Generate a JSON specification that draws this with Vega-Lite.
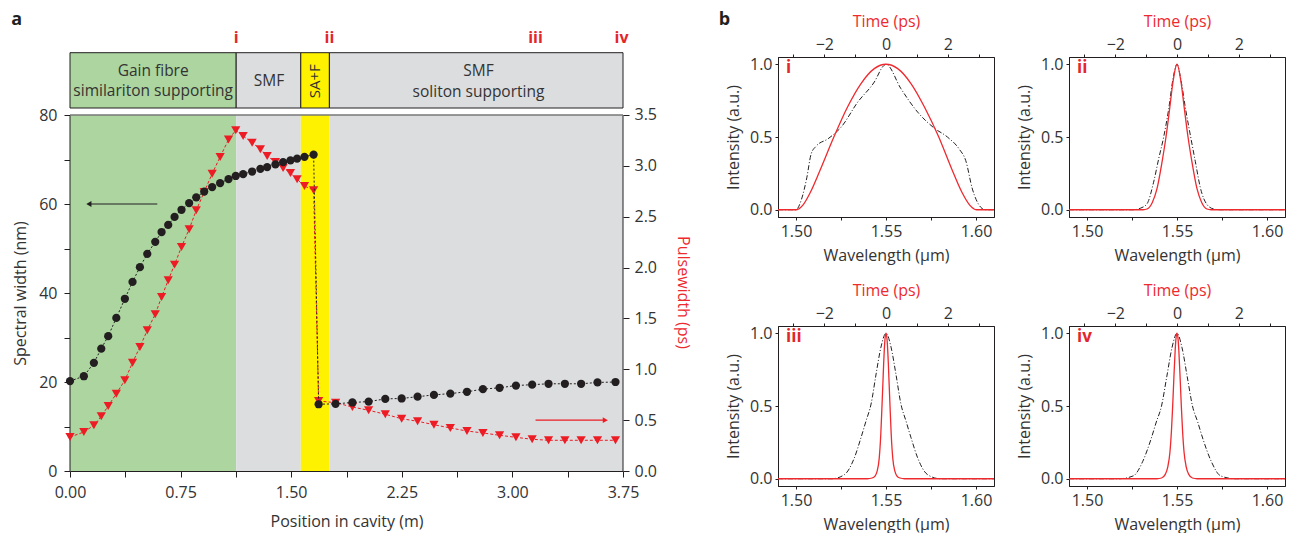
{
"$schema": "https://vega.github.io/schema/vega-lite/v6.json",
"padding": {"left": 11, "top": 10, "right": 5, "bottom": 5},
"background": "white",
"config": {
  "font": "Open Sans",
  "view": {"stroke": "#231f20", "strokeWidth": 1},
  "axis": {"grid": false, "labelFont": "Open Sans", "titleFont": "Open Sans", "labelFontSize": 16, "titleFontSize": 16, "labelColor": "#333333", "titleColor": "#333333", "titleFontWeight": "normal", "domainColor": "#231f20", "tickColor": "#231f20", "labelOverlap": false, "labelFlush": false},
  "text": {"font": "Open Sans"}
},
"datasets": {
  "main": [
    {"pos":0.0,"sw":20.2,"pw":0.334},{"pos":0.094,"sw":21.3,"pw":0.383},{"pos":0.162,"sw":24.3,"pw":0.449},{"pos":0.212,"sw":27.5,"pw":0.538},
    {"pos":0.259,"sw":30.3,"pw":0.639},{"pos":0.314,"sw":34.4,"pw":0.760},{"pos":0.372,"sw":38.7,"pw":0.892},{"pos":0.424,"sw":42.5,"pw":1.065},
    {"pos":0.474,"sw":45.8,"pw":1.219},{"pos":0.524,"sw":48.8,"pw":1.383},{"pos":0.578,"sw":51.5,"pw":1.541},{"pos":0.621,"sw":53.7,"pw":1.711},
    {"pos":0.666,"sw":55.3,"pw":1.875},{"pos":0.709,"sw":57.1,"pw":2.029},{"pos":0.756,"sw":58.7,"pw":2.203},{"pos":0.808,"sw":60.2,"pw":2.377},
    {"pos":0.856,"sw":61.5,"pw":2.563},{"pos":0.910,"sw":62.8,"pw":2.743},{"pos":0.964,"sw":63.8,"pw":2.923},{"pos":1.018,"sw":64.7,"pw":3.088},
    {"pos":1.075,"sw":65.6,"pw":3.258},{"pos":1.124,"sw":66.3,"pw":3.350},{"pos":1.174,"sw":66.7,"pw":3.294},{"pos":1.235,"sw":67.3,"pw":3.228},
    {"pos":1.291,"sw":67.9,"pw":3.163},{"pos":1.337,"sw":68.3,"pw":3.097},{"pos":1.393,"sw":68.9,"pw":3.038},{"pos":1.445,"sw":69.4,"pw":2.979},
    {"pos":1.495,"sw":69.8,"pw":2.930},{"pos":1.540,"sw":70.2,"pw":2.868},{"pos":1.590,"sw":70.6,"pw":2.802},{"pos":1.652,"sw":71.1,"pw":2.760},
    {"pos":1.686,"sw":15.0,"pw":0.688},{"pos":1.801,"sw":15.1,"pw":0.672},{"pos":1.915,"sw":15.4,"pw":0.629},{"pos":2.025,"sw":15.6,"pw":0.597},
    {"pos":2.138,"sw":16.2,"pw":0.558},{"pos":2.249,"sw":16.3,"pw":0.514},{"pos":2.357,"sw":16.7,"pw":0.489},{"pos":2.468,"sw":17.1,"pw":0.455},
    {"pos":2.579,"sw":17.4,"pw":0.423},{"pos":2.692,"sw":17.8,"pw":0.393},{"pos":2.800,"sw":18.4,"pw":0.374},{"pos":2.913,"sw":18.7,"pw":0.351},
    {"pos":3.024,"sw":19.2,"pw":0.331},{"pos":3.134,"sw":19.4,"pw":0.312},{"pos":3.245,"sw":19.6,"pw":0.302},{"pos":3.356,"sw":19.6,"pw":0.302},
    {"pos":3.466,"sw":19.6,"pw":0.302},{"pos":3.577,"sw":19.9,"pw":0.302},{"pos":3.699,"sw":20.0,"pw":0.302}
  ],
  "regions": [
    {"x1":0,"x2":1.127,"region":"gain"},{"x1":1.127,"x2":1.565,"region":"smf"},{"x1":1.565,"x2":1.759,"region":"sa"},{"x1":1.759,"x2":3.75,"region":"smf"}
  ],
  "spec_i": [
    {"wl":1.49,"I":0},{"wl":1.5,"I":0},{"wl":1.503,"I":0.07},{"wl":1.506,"I":0.22},{"wl":1.5084,"I":0.383},{"wl":1.5112,"I":0.437},
    {"wl":1.5177,"I":0.487},{"wl":1.5251,"I":0.568},{"wl":1.5343,"I":0.74},{"wl":1.5435,"I":0.878},{"wl":1.5487,"I":0.99},{"wl":1.55,"I":1},
    {"wl":1.5583,"I":0.832},{"wl":1.5676,"I":0.671},{"wl":1.5768,"I":0.561},{"wl":1.5842,"I":0.499},{"wl":1.5906,"I":0.418},{"wl":1.5943,"I":0.338},
    {"wl":1.598,"I":0.142},{"wl":1.6027,"I":0.016},{"wl":1.605,"I":0},{"wl":1.61,"I":0}
  ],
  "pulse_i": [
    {"t":-3.5,"I":0},{"t":-2.9,"I":0},{"t":-2.7,"I":0.03},{"t":-2.45,"I":0.12},{"t":-2.12,"I":0.28},{"t":-1.69,"I":0.5},{"t":-1.25,"I":0.705},
    {"t":-0.815,"I":0.866},{"t":-0.38,"I":0.97},{"t":0,"I":1},{"t":0.38,"I":0.97},{"t":0.815,"I":0.866},{"t":1.25,"I":0.705},{"t":1.71,"I":0.5},
    {"t":2.13,"I":0.28},{"t":2.46,"I":0.12},{"t":2.72,"I":0.03},{"t":2.93,"I":0},{"t":3.5,"I":0}
  ],
  "spec_ii": [
    {"wl":1.49,"I":0},{"wl":1.526,"I":0},{"wl":1.5296,"I":0.01},{"wl":1.5333,"I":0.04},{"wl":1.537,"I":0.189},{"wl":1.5398,"I":0.349},
    {"wl":1.5426,"I":0.5},{"wl":1.5454,"I":0.694},{"wl":1.5478,"I":0.901},{"wl":1.55,"I":1},{"wl":1.5522,"I":0.89},{"wl":1.5548,"I":0.69},
    {"wl":1.5576,"I":0.5},{"wl":1.5602,"I":0.33},{"wl":1.563,"I":0.15},{"wl":1.5667,"I":0.035},{"wl":1.5704,"I":0.005},{"wl":1.574,"I":0},{"wl":1.61,"I":0}
  ],
  "pulse_ii": [
    {"t":-3.5,"I":0},{"t":-1.1,"I":0},{"t":-0.97,"I":0.005},{"t":-0.8,"I":0.05},{"t":-0.65,"I":0.143},{"t":-0.487,"I":0.326},{"t":-0.357,"I":0.5},
    {"t":-0.238,"I":0.695},{"t":-0.13,"I":0.878},{"t":0,"I":1},{"t":0.13,"I":0.878},{"t":0.238,"I":0.695},{"t":0.357,"I":0.5},{"t":0.487,"I":0.326},
    {"t":0.65,"I":0.143},{"t":0.8,"I":0.05},{"t":0.97,"I":0.005},{"t":1.1,"I":0},{"t":3.5,"I":0}
  ],
  "spec_iii": [
    {"wl":1.49,"I":0},{"wl":1.52,"I":0},{"wl":1.5269,"I":0.028},{"wl":1.5324,"I":0.143},{"wl":1.5361,"I":0.282},{"wl":1.5389,"I":0.397},
    {"wl":1.5417,"I":0.513},{"wl":1.5445,"I":0.72},{"wl":1.5472,"I":0.905},{"wl":1.55,"I":1},{"wl":1.5528,"I":0.905},{"wl":1.5555,"I":0.72},
    {"wl":1.5583,"I":0.513},{"wl":1.5611,"I":0.397},{"wl":1.5639,"I":0.282},{"wl":1.5676,"I":0.143},{"wl":1.5731,"I":0.028},{"wl":1.58,"I":0},{"wl":1.61,"I":0}
  ],
  "pulse_iii": [
    {"t":-3.5,"I":0},{"t":-0.6,"I":0},{"t":-0.45,"I":0.005},{"t":-0.35,"I":0.02},{"t":-0.29,"I":0.05},{"t":-0.22,"I":0.14},{"t":-0.17,"I":0.3},
    {"t":-0.13,"I":0.5},{"t":-0.1,"I":0.66},{"t":-0.076,"I":0.79},{"t":-0.04,"I":0.94},{"t":0,"I":1},{"t":0.04,"I":0.94},{"t":0.076,"I":0.79},
    {"t":0.1,"I":0.66},{"t":0.13,"I":0.5},{"t":0.17,"I":0.3},{"t":0.22,"I":0.14},{"t":0.29,"I":0.05},{"t":0.35,"I":0.02},{"t":0.45,"I":0.005},
    {"t":0.6,"I":0},{"t":3.5,"I":0}
  ],
  "spec_iv": [
    {"wl":1.49,"I":0},{"wl":1.518,"I":0},{"wl":1.5258,"I":0.02},{"wl":1.531,"I":0.12},{"wl":1.5355,"I":0.27},{"wl":1.5385,"I":0.39},
    {"wl":1.5414,"I":0.5},{"wl":1.5443,"I":0.7},{"wl":1.5472,"I":0.9},{"wl":1.55,"I":1},{"wl":1.5528,"I":0.9},{"wl":1.5557,"I":0.7},
    {"wl":1.5586,"I":0.5},{"wl":1.5615,"I":0.39},{"wl":1.5645,"I":0.27},{"wl":1.569,"I":0.12},{"wl":1.5742,"I":0.02},{"wl":1.582,"I":0},{"wl":1.61,"I":0}
  ],
  "pulse_iv": [
    {"t":-3.5,"I":0},{"t":-0.65,"I":0},{"t":-0.5,"I":0.005},{"t":-0.38,"I":0.03},{"t":-0.3,"I":0.08},{"t":-0.23,"I":0.18},{"t":-0.18,"I":0.33},
    {"t":-0.14,"I":0.5},{"t":-0.1,"I":0.7},{"t":-0.06,"I":0.88},{"t":-0.03,"I":0.97},{"t":0,"I":1},{"t":0.03,"I":0.97},{"t":0.06,"I":0.88},
    {"t":0.1,"I":0.7},{"t":0.14,"I":0.5},{"t":0.18,"I":0.33},{"t":0.23,"I":0.18},{"t":0.3,"I":0.08},{"t":0.38,"I":0.03},{"t":0.5,"I":0.005},
    {"t":0.65,"I":0},{"t":3.5,"I":0}
  ]
},
"hconcat": [
  {
    "width": 553, "height": 414,
    "view": {"stroke": null},
    "layer": [
      {"layer": [
        {"data": {"name": "regions"},
         "mark": {"type": "rect"},
         "encoding": {
           "x": {"field": "x1", "type": "quantitative", "scale": {"domain": [0, 3.75], "nice": false, "zero": false},
                 "title": "Position in cavity (m)",
                 "axis": {"values": [0, 0.375, 0.75, 1.125, 1.5, 1.875, 2.25, 2.625, 3, 3.375, 3.75],
                          "labelExpr": "round(datum.value*1000) % 750 == 0 ? format(datum.value, '.2f') : ''",
                          "tickSize": 6, "labelPadding": 7,
                          "title": "Position in cavity (m)", "titleX": 276.5, "titleY": 50, "titleBaseline": "middle"}},
           "x2": {"field": "x2"},
           "y": {"datum": 0, "type": "quantitative", "scale": {"domain": [0, 93.034], "nice": false, "zero": false}, "axis": null},
           "y2": {"datum": 80},
           "color": {"field": "region", "type": "nominal", "scale": {"domain": ["gain", "smf", "sa"], "range": ["#acd5a0", "#dcdddf", "#fff200"]}, "legend": null}
         }},
        {"data": {"name": "regions"},
         "mark": {"type": "rect", "stroke": "#231f20", "strokeWidth": 1},
         "encoding": {
           "x": {"field": "x1", "type": "quantitative", "title": "Position in cavity (m)"},
           "x2": {"field": "x2"},
           "y": {"datum": 81.573, "type": "quantitative", "scale": {"domain": [0, 93.034], "nice": false, "zero": false}, "axis": null},
           "y2": {"datum": 94.0},
           "color": {"field": "region", "type": "nominal", "scale": {"domain": ["gain", "smf", "sa"], "range": ["#acd5a0", "#dcdddf", "#fff200"]}, "legend": null}
         }},
        {"data": {"values": [{"xa": 0, "ya": 0, "yb": 80}, {"xa": 3.75, "ya": 0, "yb": 80}]},
         "mark": {"type": "rule", "color": "#231f20", "strokeWidth": 1},
         "encoding": {
           "x": {"field": "xa", "type": "quantitative", "title": "Position in cavity (m)"},
           "y": {"field": "ya", "type": "quantitative", "scale": {"domain": [0, 93.034], "nice": false, "zero": false}, "axis": null},
           "y2": {"field": "yb"}
         }},
        {"data": {"values": [{"xa": 0, "xb": 3.75, "ya": 80}]},
         "mark": {"type": "rule", "color": "#777777", "strokeWidth": 1.5},
         "encoding": {
           "x": {"field": "xa", "type": "quantitative", "title": "Position in cavity (m)"},
           "x2": {"field": "xb"},
           "y": {"field": "ya", "type": "quantitative", "scale": {"domain": [0, 93.034], "nice": false, "zero": false}, "axis": null}
         }},
        {"data": {"values": [
            {"x": 0.564, "y": 90.0, "text": "Gain fibre"},
            {"x": 0.564, "y": 85.3, "text": "similariton supporting"},
            {"x": 1.35, "y": 87.6, "text": "SMF"},
            {"x": 2.77, "y": 90.0, "text": "SMF"},
            {"x": 2.77, "y": 85.2, "text": "soliton supporting"}
          ]},
         "mark": {"type": "text", "fontSize": 15.5, "color": "#333333", "baseline": "middle", "align": "center"},
         "encoding": {
           "x": {"field": "x", "type": "quantitative", "title": "Position in cavity (m)"},
           "y": {"field": "y", "type": "quantitative", "scale": {"domain": [0, 93.034], "nice": false, "zero": false}, "axis": null},
           "text": {"field": "text"}
         }},
        {"data": {"values": [{"x": 1.662, "y": 87.6, "text": "SA+F"}]},
         "mark": {"type": "text", "fontSize": 15, "color": "#333333", "baseline": "middle", "align": "center", "angle": 270},
         "encoding": {
           "x": {"field": "x", "type": "quantitative", "title": "Position in cavity (m)"},
           "y": {"field": "y", "type": "quantitative", "scale": {"domain": [0, 93.034], "nice": false, "zero": false}, "axis": null},
           "text": {"field": "text"}
         }},
        {"data": {"values": [
            {"x": 1.127, "y": 97.3, "text": "i"},
            {"x": 1.759, "y": 97.3, "text": "ii"},
            {"x": 3.157, "y": 97.3, "text": "iii"},
            {"x": 3.74, "y": 97.3, "text": "iv"}
          ]},
         "mark": {"type": "text", "fontSize": 16, "fontWeight": "bold", "color": "#e3262b", "baseline": "middle", "align": "center"},
         "encoding": {
           "x": {"field": "x", "type": "quantitative", "title": "Position in cavity (m)"},
           "y": {"field": "y", "type": "quantitative", "scale": {"domain": [0, 93.034], "nice": false, "zero": false}, "axis": null},
           "text": {"field": "text"}
         }},
        {"data": {"values": [{"x": -0.361, "y": 101.35, "text": "a"}]},
         "mark": {"type": "text", "fontSize": 18, "fontWeight": "bold", "color": "#231f20", "baseline": "middle", "align": "center"},
         "encoding": {
           "x": {"field": "x", "type": "quantitative", "title": "Position in cavity (m)"},
           "y": {"field": "y", "type": "quantitative", "scale": {"domain": [0, 93.034], "nice": false, "zero": false}, "axis": null},
           "text": {"field": "text"}
         }}
      ]},
      {"layer": [
        {"data": {"name": "main"},
         "mark": {"type": "line", "color": "#ed1c24", "strokeWidth": 1, "strokeDash": [3, 2]},
         "encoding": {
           "x": {"field": "pos", "type": "quantitative", "title": "Position in cavity (m)"},
           "y": {"field": "pw", "type": "quantitative", "scale": {"domain": [0, 4.0702], "nice": false, "zero": false},
                 "title": "Pulsewidth (ps)",
                 "axis": {"orient": "right", "domain": false, "values": [0, 0.25, 0.5, 0.75, 1, 1.25, 1.5, 1.75, 2, 2.25, 2.5, 2.75, 3, 3.25, 3.5],
                          "labelExpr": "round(datum.value*100) % 50 == 0 ? format(datum.value, '.1f') : ''",
                          "tickSize": 6, "labelPadding": 5,
                          "title": "Pulsewidth (ps)", "titleColor": "#ee2a2f", "titleAngle": 90, "titleX": 59, "titleY": 235, "titleBaseline": "middle"}}
         }},
        {"data": {"name": "main"},
         "mark": {"type": "point", "shape": "triangle-down", "filled": true, "size": 85, "color": "#ed1c24", "opacity": 1},
         "encoding": {
           "x": {"field": "pos", "type": "quantitative", "title": "Position in cavity (m)"},
           "y": {"field": "pw", "type": "quantitative", "title": "Pulsewidth (ps)"}
         }},
        {"data": {"values": [{"xa": 3.157, "xb": 3.63, "pw": 0.5}]},
         "mark": {"type": "rule", "color": "#ed1c24", "strokeWidth": 1.2},
         "encoding": {
           "x": {"field": "xa", "type": "quantitative", "title": "Position in cavity (m)"},
           "x2": {"field": "xb"},
           "y": {"field": "pw", "type": "quantitative", "title": "Pulsewidth (ps)"}
         }},
        {"data": {"values": [{"xa": 3.63, "pw": 0.5}]},
         "mark": {"type": "point", "shape": "triangle-right", "filled": true, "size": 35, "color": "#ed1c24", "opacity": 1},
         "encoding": {
           "x": {"field": "xa", "type": "quantitative", "title": "Position in cavity (m)"},
           "y": {"field": "pw", "type": "quantitative", "title": "Pulsewidth (ps)"}
         }}
      ]},
      {"layer": [
        {"data": {"name": "main"},
         "mark": {"type": "line", "color": "#231f20", "strokeWidth": 1, "strokeDash": [2, 2]},
         "encoding": {
           "x": {"field": "pos", "type": "quantitative", "title": "Position in cavity (m)"},
           "y": {"field": "sw", "type": "quantitative", "scale": {"domain": [0, 93.034], "nice": false, "zero": false},
                 "title": "Spectral width (nm)",
                 "axis": {"orient": "left", "domain": false, "values": [0, 10, 20, 30, 40, 50, 60, 70, 80],
                          "labelExpr": "datum.value % 20 == 0 ? datum.label : ''",
                          "tickSize": 6, "labelPadding": 7,
                          "title": "Spectral width (nm)", "titleAngle": -90, "titleX": -50, "titleY": 236, "titleBaseline": "middle"}}
         }},
        {"data": {"name": "main"},
         "mark": {"type": "point", "shape": "circle", "filled": true, "size": 68, "color": "#231f20", "opacity": 1},
         "encoding": {
           "x": {"field": "pos", "type": "quantitative", "title": "Position in cavity (m)"},
           "y": {"field": "sw", "type": "quantitative", "title": "Spectral width (nm)"}
         }},
        {"data": {"values": [{"xa": 0.592, "xb": 0.13, "sw": 60}]},
         "mark": {"type": "rule", "color": "#231f20", "strokeWidth": 1.2},
         "encoding": {
           "x": {"field": "xa", "type": "quantitative", "title": "Position in cavity (m)"},
           "x2": {"field": "xb"},
           "y": {"field": "sw", "type": "quantitative", "title": "Spectral width (nm)"}
         }},
        {"data": {"values": [{"xa": 0.128, "sw": 60}]},
         "mark": {"type": "point", "shape": "triangle-left", "filled": true, "size": 35, "color": "#231f20", "opacity": 1},
         "encoding": {
           "x": {"field": "xa", "type": "quantitative", "title": "Position in cavity (m)"},
           "y": {"field": "sw", "type": "quantitative", "title": "Spectral width (nm)"}
         }}
      ]}
    ],
    "resolve": {"scale": {"y": "independent"}}
  },
  {
    "concat": [
      {
        "width": 216, "height": 160,
        "layer": [
          {"layer": [
            {"data": {"name": "spec_i"},
             "mark": {"type": "line", "color": "#231f20", "strokeWidth": 1, "strokeDash": [5, 2, 1, 2], "interpolate": "monotone"},
             "encoding": {
               "x": {"field": "wl", "type": "quantitative", "scale": {"domain": [1.49, 1.61], "nice": false, "zero": false},
                     "axis": {"orient": "bottom", "values": [1.5, 1.525, 1.55, 1.575, 1.6], "labelExpr": "round(datum.value*1000) % 50 == 0 ? format(datum.value, '.2f') : ''", "tickSize": 3, "labelPadding": 3, "title": "Wavelength (μm)", "titleX": 108, "titleY": 38, "titleBaseline": "middle"}},
               "y": {"field": "I", "type": "quantitative", "scale": {"domain": [-0.05, 1.05], "nice": false, "zero": false},
                     "axis": {"values": [0, 0.25, 0.5, 0.75, 1], "labelExpr": "round(datum.value*100) % 50 == 0 ? format(datum.value, '.1f') : ''", "tickSize": 3, "labelPadding": 3, "title": "Intensity (a.u.)", "titleAngle": -90, "titleX": -45, "titleY": 80, "titleBaseline": "middle"}}
             }},
            {"data": {"values": [{"wl": 1.4945, "I": 0.975, "lab": "i"}]},
             "mark": {"type": "text", "align": "left", "baseline": "middle", "fontWeight": "bold", "fontSize": 17, "color": "#e3262b"},
             "encoding": {"x": {"field": "wl", "type": "quantitative"}, "y": {"field": "I", "type": "quantitative"}, "text": {"field": "lab"}}},
            {"data": {"values": [{"wl": 1.4602, "I": 1.302, "lab": "b"}]},
             "mark": {"type": "text", "align": "center", "baseline": "middle", "fontWeight": "bold", "fontSize": 18, "color": "#231f20"},
             "encoding": {"x": {"field": "wl", "type": "quantitative"}, "y": {"field": "I", "type": "quantitative"}, "text": {"field": "lab"}}}
          ]},
          {"data": {"name": "pulse_i"},
           "mark": {"type": "line", "color": "#ee2a2f", "strokeWidth": 1.3, "interpolate": "monotone"},
           "encoding": {
             "x": {"field": "t", "type": "quantitative", "scale": {"domain": [-3.5, 3.5], "nice": false, "zero": false},
                   "axis": {"orient": "top", "values": [-3, -2, -1, 0, 1, 2, 3], "labelExpr": "datum.value % 2 == 0 ? format(datum.value, 'd') : ''", "tickSize": 3, "labelPadding": 2, "title": "Time (ps)", "titleColor": "#ee2a2f", "titleX": 108, "titleY": -36, "titleBaseline": "middle"}},
             "y": {"field": "I", "type": "quantitative"}
           }}
        ],
        "resolve": {"scale": {"x": "independent"}}
      },
      {
        "width": 216, "height": 160,
        "layer": [
          {"layer": [
            {"data": {"name": "spec_ii"},
             "mark": {"type": "line", "color": "#231f20", "strokeWidth": 1, "strokeDash": [5, 2, 1, 2], "interpolate": "monotone"},
             "encoding": {
               "x": {"field": "wl", "type": "quantitative", "scale": {"domain": [1.49, 1.61], "nice": false, "zero": false},
                     "axis": {"orient": "bottom", "values": [1.5, 1.525, 1.55, 1.575, 1.6], "labelExpr": "round(datum.value*1000) % 50 == 0 ? format(datum.value, '.2f') : ''", "tickSize": 3, "labelPadding": 3, "title": "Wavelength (μm)", "titleX": 108, "titleY": 38, "titleBaseline": "middle"}},
               "y": {"field": "I", "type": "quantitative", "scale": {"domain": [-0.05, 1.05], "nice": false, "zero": false},
                     "axis": {"values": [0, 0.25, 0.5, 0.75, 1], "labelExpr": "round(datum.value*100) % 50 == 0 ? format(datum.value, '.1f') : ''", "tickSize": 3, "labelPadding": 3, "title": "Intensity (a.u.)", "titleAngle": -90, "titleX": -45, "titleY": 80, "titleBaseline": "middle"}}
             }},
            {"data": {"values": [{"wl": 1.4945, "I": 0.975, "lab": "ii"}]},
             "mark": {"type": "text", "align": "left", "baseline": "middle", "fontWeight": "bold", "fontSize": 17, "color": "#e3262b"},
             "encoding": {"x": {"field": "wl", "type": "quantitative"}, "y": {"field": "I", "type": "quantitative"}, "text": {"field": "lab"}}}
          ]},
          {"data": {"name": "pulse_ii"},
           "mark": {"type": "line", "color": "#ee2a2f", "strokeWidth": 1.3, "interpolate": "monotone"},
           "encoding": {
             "x": {"field": "t", "type": "quantitative", "scale": {"domain": [-3.5, 3.5], "nice": false, "zero": false},
                   "axis": {"orient": "top", "values": [-3, -2, -1, 0, 1, 2, 3], "labelExpr": "datum.value % 2 == 0 ? format(datum.value, 'd') : ''", "tickSize": 3, "labelPadding": 2, "title": "Time (ps)", "titleColor": "#ee2a2f", "titleX": 108, "titleY": -36, "titleBaseline": "middle"}},
             "y": {"field": "I", "type": "quantitative"}
           }}
        ],
        "resolve": {"scale": {"x": "independent"}}
      },
      {
        "width": 216, "height": 160,
        "layer": [
          {"layer": [
            {"data": {"name": "spec_iii"},
             "mark": {"type": "line", "color": "#231f20", "strokeWidth": 1, "strokeDash": [5, 2, 1, 2], "interpolate": "monotone"},
             "encoding": {
               "x": {"field": "wl", "type": "quantitative", "scale": {"domain": [1.49, 1.61], "nice": false, "zero": false},
                     "axis": {"orient": "bottom", "values": [1.5, 1.525, 1.55, 1.575, 1.6], "labelExpr": "round(datum.value*1000) % 50 == 0 ? format(datum.value, '.2f') : ''", "tickSize": 3, "labelPadding": 3, "title": "Wavelength (μm)", "titleX": 108, "titleY": 38, "titleBaseline": "middle"}},
               "y": {"field": "I", "type": "quantitative", "scale": {"domain": [-0.05, 1.05], "nice": false, "zero": false},
                     "axis": {"values": [0, 0.25, 0.5, 0.75, 1], "labelExpr": "round(datum.value*100) % 50 == 0 ? format(datum.value, '.1f') : ''", "tickSize": 3, "labelPadding": 3, "title": "Intensity (a.u.)", "titleAngle": -90, "titleX": -45, "titleY": 80, "titleBaseline": "middle"}}
             }},
            {"data": {"values": [{"wl": 1.4945, "I": 0.975, "lab": "iii"}]},
             "mark": {"type": "text", "align": "left", "baseline": "middle", "fontWeight": "bold", "fontSize": 17, "color": "#e3262b"},
             "encoding": {"x": {"field": "wl", "type": "quantitative"}, "y": {"field": "I", "type": "quantitative"}, "text": {"field": "lab"}}}
          ]},
          {"data": {"name": "pulse_iii"},
           "mark": {"type": "line", "color": "#ee2a2f", "strokeWidth": 1.3, "interpolate": "monotone"},
           "encoding": {
             "x": {"field": "t", "type": "quantitative", "scale": {"domain": [-3.5, 3.5], "nice": false, "zero": false},
                   "axis": {"orient": "top", "values": [-3, -2, -1, 0, 1, 2, 3], "labelExpr": "datum.value % 2 == 0 ? format(datum.value, 'd') : ''", "tickSize": 3, "labelPadding": 2, "title": "Time (ps)", "titleColor": "#ee2a2f", "titleX": 108, "titleY": -36, "titleBaseline": "middle"}},
             "y": {"field": "I", "type": "quantitative"}
           }}
        ],
        "resolve": {"scale": {"x": "independent"}}
      },
      {
        "width": 216, "height": 160,
        "layer": [
          {"layer": [
            {"data": {"name": "spec_iv"},
             "mark": {"type": "line", "color": "#231f20", "strokeWidth": 1, "strokeDash": [5, 2, 1, 2], "interpolate": "monotone"},
             "encoding": {
               "x": {"field": "wl", "type": "quantitative", "scale": {"domain": [1.49, 1.61], "nice": false, "zero": false},
                     "axis": {"orient": "bottom", "values": [1.5, 1.525, 1.55, 1.575, 1.6], "labelExpr": "round(datum.value*1000) % 50 == 0 ? format(datum.value, '.2f') : ''", "tickSize": 3, "labelPadding": 3, "title": "Wavelength (μm)", "titleX": 108, "titleY": 38, "titleBaseline": "middle"}},
               "y": {"field": "I", "type": "quantitative", "scale": {"domain": [-0.05, 1.05], "nice": false, "zero": false},
                     "axis": {"values": [0, 0.25, 0.5, 0.75, 1], "labelExpr": "round(datum.value*100) % 50 == 0 ? format(datum.value, '.1f') : ''", "tickSize": 3, "labelPadding": 3, "title": "Intensity (a.u.)", "titleAngle": -90, "titleX": -45, "titleY": 80, "titleBaseline": "middle"}}
             }},
            {"data": {"values": [{"wl": 1.4945, "I": 0.975, "lab": "iv"}]},
             "mark": {"type": "text", "align": "left", "baseline": "middle", "fontWeight": "bold", "fontSize": 17, "color": "#e3262b"},
             "encoding": {"x": {"field": "wl", "type": "quantitative"}, "y": {"field": "I", "type": "quantitative"}, "text": {"field": "lab"}}}
          ]},
          {"data": {"name": "pulse_iv"},
           "mark": {"type": "line", "color": "#ee2a2f", "strokeWidth": 1.3, "interpolate": "monotone"},
           "encoding": {
             "x": {"field": "t", "type": "quantitative", "scale": {"domain": [-3.5, 3.5], "nice": false, "zero": false},
                   "axis": {"orient": "top", "values": [-3, -2, -1, 0, 1, 2, 3], "labelExpr": "datum.value % 2 == 0 ? format(datum.value, 'd') : ''", "tickSize": 3, "labelPadding": 2, "title": "Time (ps)", "titleColor": "#ee2a2f", "titleX": 108, "titleY": -36, "titleBaseline": "middle"}},
             "y": {"field": "I", "type": "quantitative"}
           }}
        ],
        "resolve": {"scale": {"x": "independent"}}
      }
    ],
    "columns": 2,
    "spacing": {"row": 109, "column": 75},
    "bounds": "flush"
  }
],
"spacing": 155,
"bounds": "flush"
}
